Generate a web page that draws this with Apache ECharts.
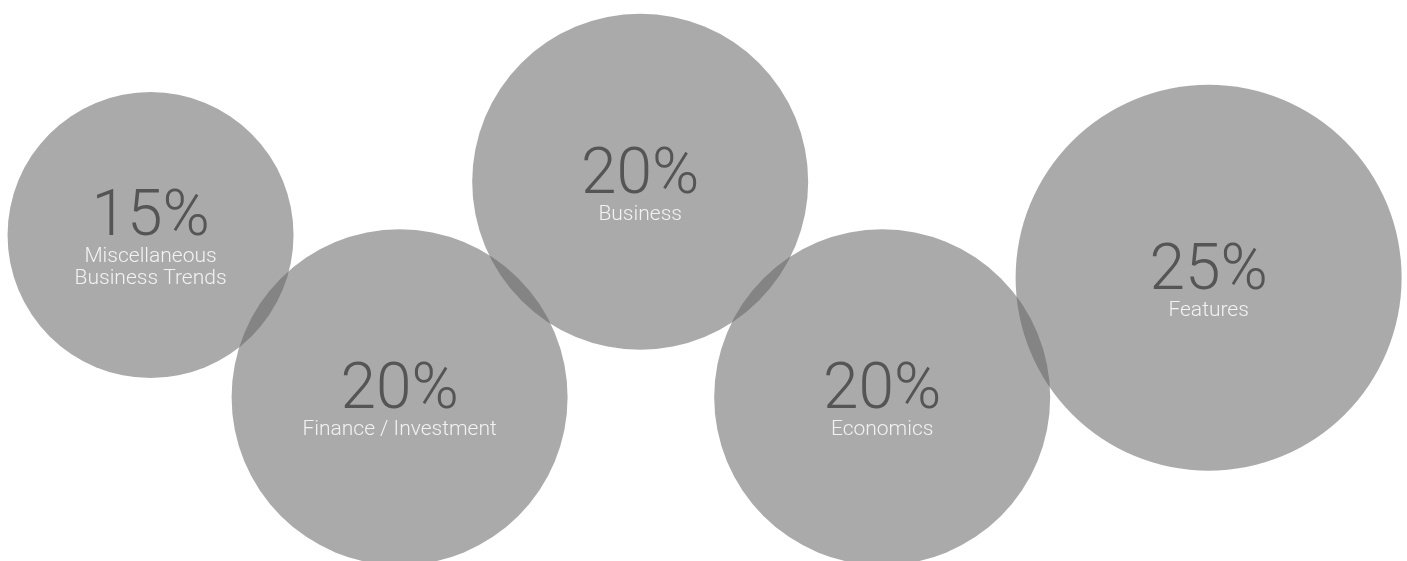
<!DOCTYPE html>
<html>
<head>
<meta charset="utf-8">
<style>
  html, body { margin: 0; padding: 0; background: #ffffff; }
  #chart { width: 1407px; height: 561px; }
</style>
<script src="https://cdn.jsdelivr.net/npm/echarts@6/dist/echarts.min.js"></script>
</head>
<body>
<div id="chart"></div>
<script>
// Data
const categories = ['Miscellaneous\nBusiness Trends', 'Finance / Investment', 'Business', 'Economics', 'Features'];
const shares = [15, 20, 20, 20, 25];           // percent
const xPos = [10.7, 28.4, 45.5, 62.7, 85.9];   // horizontal layout position (0-100 scale)
const yPos = [41.9, 70.8, 32.4, 70.8, 49.5];   // vertical layout position (0-100 scale, top = 0)

const seriesData = categories.map((c, i) => ({
  name: c,
  value: [xPos[i], yPos[i], shares[i]]
}));

const chart = echarts.init(document.getElementById('chart'), null, { renderer: 'canvas' });
chart.setOption({
  animation: false,
  backgroundColor: '#ffffff',
  grid: { left: 0, right: 0, top: 0, bottom: 0 },
  xAxis: { type: 'value', min: 0, max: 100, show: false },
  yAxis: { type: 'value', min: 0, max: 100, inverse: true, show: false },
  series: [{
    type: 'scatter',
    data: seriesData,
    symbol: 'circle',
    symbolSize: function (val) { return 136 + 10 * val[2]; },
    itemStyle: { color: 'rgba(100,100,100,0.55)', opacity: 1 },
    emphasis: { disabled: true },
    label: {
      show: true,
      position: 'inside',
      offset: [0, 6],
      opacity: 1,
      formatter: function (p) {
        const lines = p.name.split('\n').map(s => '{n|' + s + '}').join('\n');
        return '{p|' + p.value[2] + '%}\n' + lines;
      },
      rich: {
        p: { fontFamily: 'Roboto', fontWeight: 300, fontSize: 64, lineHeight: 54, color: '#555555', align: 'center' },
        n: { fontFamily: 'Roboto', fontWeight: 300, fontSize: 21, lineHeight: 22, color: '#f2f2f2', align: 'center' }
      }
    }
  }]
});
</script>
</body>
</html>
